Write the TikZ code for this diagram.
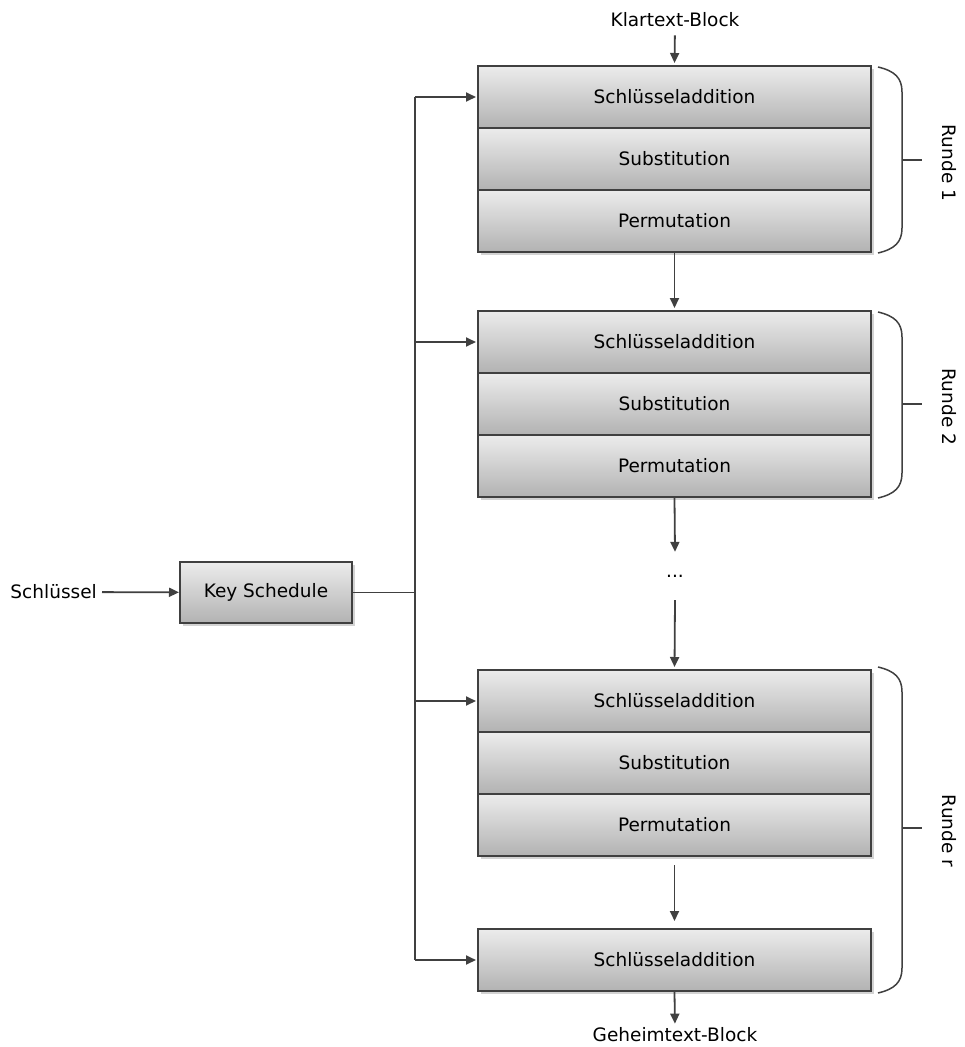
\documentclass[tikz,border=0pt]{standalone}
\usepackage{fontspec}
\setmainfont{DejaVu Sans}
\usetikzlibrary{arrows.meta,shadows}
\definecolor{edge}{HTML}{404040}
\definecolor{boxtop}{HTML}{ECECEC}
\definecolor{boxbot}{HTML}{B2B2B2}
\begin{document}
\begin{tikzpicture}[x=1pt,y=-1pt,
  font=\fontsize{18.5}{22}\selectfont,
  stage/.style={draw=edge, line width=2pt, top color=boxtop, bottom color=boxbot,
    minimum width=393pt, minimum height=62pt, inner sep=0pt,
    drop shadow={shadow xshift=2.5pt,shadow yshift=-2.5pt,opacity=0.35}},
  flow/.style={draw=edge, line width=1.8pt, -{Triangle[length=10pt,width=9pt]}},
  link/.style={draw=edge, line width=1.8pt},
  brace/.style={draw=edge, line width=1.5pt},
  label/.style={inner sep=0pt}
]
\useasboundingbox (0,0) rectangle (965,1047);

% key schedule
\node[label, anchor=east] (key) at (97,592) {Schlüssel};
\node[stage, minimum width=172pt, minimum height=61pt] (ks) at (266,592.5) {Key Schedule};
\draw[flow, shorten <=5pt] (key) -- (ks);

% round 1
\node[stage] (r1a) at (674.5,97) {Schlüsseladdition};
\node[stage] (r1b) at (674.5,159) {Substitution};
\node[stage] (r1c) at (674.5,221) {Permutation};
% round 2
\node[stage] (r2a) at (674.5,342) {Schlüsseladdition};
\node[stage] (r2b) at (674.5,404) {Substitution};
\node[stage] (r2c) at (674.5,466) {Permutation};
% round r
\node[stage] (r3a) at (674.5,701) {Schlüsseladdition};
\node[stage] (r3b) at (674.5,763) {Substitution};
\node[stage] (r3c) at (674.5,825) {Permutation};
\node[stage] (fin) at (674.5,960) {Schlüsseladdition};

% input / output texts
\node[label] (plain) at (675,20) {Klartext-Block};
\node[label] (cipher) at (675,1035) {Geheimtext-Block};
\node[label, minimum height=48pt] (dots) at (675,576) {...};

% data path
\draw[flow, shorten <=8pt, shorten >=2pt] (plain.south) -- (r1a.north);
\draw[flow, shorten >=2pt] (r1c.south) -- (r2a.north);
\draw[flow] (r2c.south) -- (dots.north);
\draw[flow, shorten >=2pt] (dots.south) -- (r3a.north);
\draw[flow, shorten <=8pt] (r3c.south) -- ([yshift=7pt]fin.north);
\draw[flow, shorten >=4pt] (fin.south) -- (cipher.north);

% round key bus
\coordinate (b1) at (415,97);
\coordinate (b2) at (415,342);
\coordinate (b3) at (415,701);
\coordinate (b4) at (415,960);
\draw[link] (ks.east) -- (ks.east -| b1);
\draw[link] (b1) -- (b4);
\draw[flow, shorten >=1pt] (b1) -- (r1a.west);
\draw[flow, shorten >=1pt] (b2) -- (r2a.west);
\draw[flow, shorten >=1pt] (b3) -- (r3a.west);
\draw[flow, shorten >=1pt] (b4) -- (fin.west);

% round braces
\draw[brace] (878,67) .. controls (895,71) and (902,78) .. (902,92) -- (902,228)
  .. controls (902,242) and (895,249) .. (878,253);
\draw[brace] (902,160) -- (922,160);
\node[label, rotate=-90] (l1) at (949,163) {Runde 1};

\draw[brace] (878,312) .. controls (895,316) and (902,323) .. (902,337) -- (902,473)
  .. controls (902,487) and (895,494) .. (878,498);
\draw[brace] (902,404) -- (922,404);
\node[label, rotate=-90] (l2) at (949,407) {Runde 2};

\draw[brace] (878,667) .. controls (895,671) and (902,678) .. (902,692) -- (902,968)
  .. controls (902,982) and (895,989) .. (878,993);
\draw[brace] (902,828) -- (922,828);
\node[label, rotate=-90] (l3) at (949,831) {Runde r};
\end{tikzpicture}
\end{document}
